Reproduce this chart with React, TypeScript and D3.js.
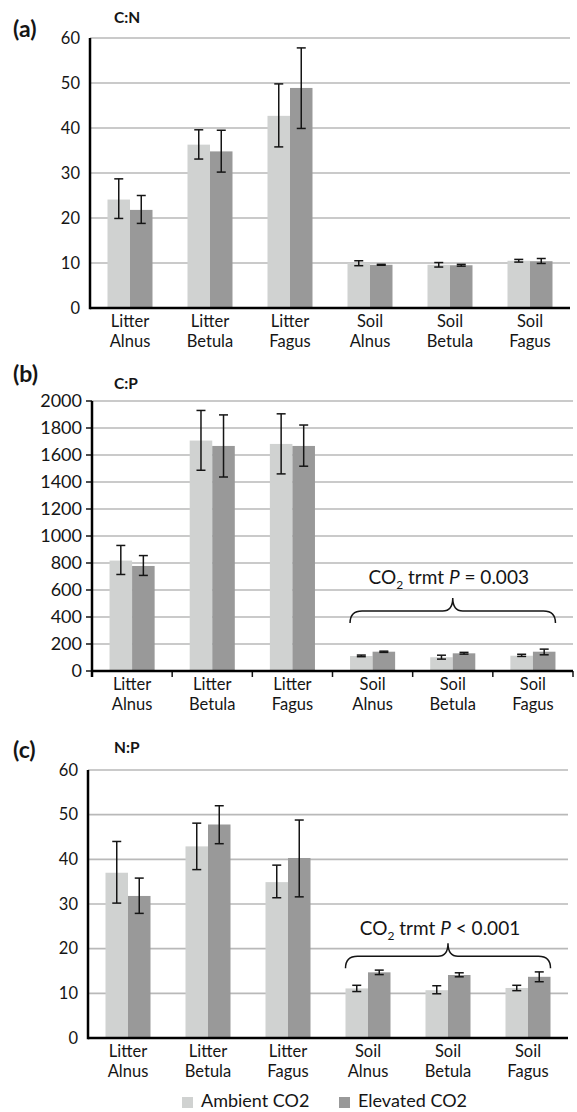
import * as d3 from 'd3'

const categories = ['Litter Alnus', 'Litter Betula', 'Litter Fagus', 'Soil Alnus', 'Soil Betula', 'Soil Fagus']
const treatments = ['Ambient CO2', 'Elevated CO2']
const treatmentColors = ['#d0d2d1', '#999999']

// (a) C:N
const cnAmbient = [24.1, 36.3, 42.7, 10.0, 9.6, 10.5]
const cnAmbientLow = [19.9, 33.1, 35.8, 9.4, 9.1, 10.2]
const cnAmbientHigh = [28.7, 39.6, 49.8, 10.5, 10.1, 10.8]
const cnElevated = [21.8, 34.8, 48.9, 9.6, 9.5, 10.4]
const cnElevatedLow = [18.8, 30.2, 39.9, 9.5, 9.3, 9.9]
const cnElevatedHigh = [25.0, 39.5, 57.8, 9.7, 9.7, 11.0]
const cnTicks = [0, 10, 20, 30, 40, 50, 60]

// (b) C:P
const cpAmbient = [818, 1707, 1682, 111, 102, 113]
const cpAmbientLow = [715, 1487, 1460, 106, 88, 108]
const cpAmbientHigh = [930, 1930, 1905, 118, 117, 124]
const cpElevated = [778, 1667, 1667, 143, 131, 143]
const cpElevatedLow = [708, 1437, 1517, 138, 125, 120]
const cpElevatedHigh = [855, 1897, 1822, 147, 138, 162]
const cpTicks = [0, 200, 400, 600, 800, 1000, 1200, 1400, 1600, 1800, 2000]

// (c) N:P
const npAmbient = [37.0, 42.9, 34.9, 11.1, 10.7, 11.2]
const npAmbientLow = [30.2, 37.7, 31.4, 10.4, 9.9, 10.6]
const npAmbientHigh = [44.0, 48.1, 38.7, 11.8, 11.7, 11.8]
const npElevated = [31.8, 47.8, 40.3, 14.7, 14.1, 13.7]
const npElevatedLow = [27.9, 43.5, 31.6, 14.2, 13.7, 12.6]
const npElevatedHigh = [35.8, 52.0, 48.8, 15.2, 14.6, 14.8]
const npTicks = [0, 10, 20, 30, 40, 50, 60]

const FONT = "Lato, 'Open Sans', sans-serif"
const INK = '#151515'

type PanelSpec = {
  letter: string
  title: string
  letterY: number
  titleY: number
  left: number
  right: number
  top: number
  bottom: number
  max: number
  ticks: number[]
  tickFont: number
  values: number[][]
  lows: number[][]
  highs: number[][]
  tickMarks: boolean
  note?: { p: string; base: number; textDx: number; textDy: number }
}

const panels: PanelSpec[] = [
  {
    letter: '(a)', title: 'C:N', letterY: 37, titleY: 23,
    left: 90, right: 570, top: 38, bottom: 308, max: 60, ticks: cnTicks, tickFont: 16.5,
    values: [cnAmbient, cnElevated], lows: [cnAmbientLow, cnElevatedLow], highs: [cnAmbientHigh, cnElevatedHigh],
    tickMarks: false,
  },
  {
    letter: '(b)', title: 'C:P', letterY: 382, titleY: 389,
    left: 92, right: 573, top: 401, bottom: 671, max: 2000, ticks: cpTicks, tickFont: 18,
    values: [cpAmbient, cpElevated], lows: [cpAmbientLow, cpElevatedLow], highs: [cpAmbientHigh, cpElevatedHigh],
    tickMarks: true,
    note: { p: '= 0.003', base: 444, textDx: -4, textDy: -27 },
  },
  {
    letter: '(c)', title: 'N:P', letterY: 758, titleY: 753,
    left: 88, right: 568, top: 770, bottom: 1038, max: 60, ticks: npTicks, tickFont: 16.5,
    values: [npAmbient, npElevated], lows: [npAmbientLow, npElevatedLow], highs: [npAmbientHigh, npElevatedHigh],
    tickMarks: false,
    note: { p: '< 0.001', base: 18.3, textDx: -8, textDy: -21 },
  },
]

function Panel({ spec }: { spec: PanelSpec }) {
  const x = d3
    .scaleBand<string>()
    .domain(categories)
    .range([spec.left, spec.right])
    .paddingInner(0.4375)
    .paddingOuter(0.21875)
  const sub = d3.scaleBand<string>().domain(treatments).range([0, x.bandwidth()])
  const y = d3.scaleLinear().domain([0, spec.max]).range([spec.bottom, spec.top])
  const cap = 4.5

  let brace: { path: string; cx: number; ty: number } | null = null
  if (spec.note) {
    const x0 = x('Soil Alnus') ?? 0
    const x1 = (x('Soil Fagus') ?? 0) + x.bandwidth()
    const cx = (x0 + x1) / 2
    const by = y(spec.note.base)
    const r = 12
    const path = [
      `M${x0},${by + r}`,
      `Q${x0},${by} ${x0 + r},${by}`,
      `L${cx - 10},${by}`,
      `Q${cx},${by} ${cx},${by - 13}`,
      `Q${cx},${by} ${cx + 10},${by}`,
      `L${x1 - r},${by}`,
      `Q${x1},${by} ${x1},${by + r}`,
    ].join(' ')
    brace = { path, cx, ty: by + spec.note.textDy }
  }

  return (
    <g>
      <text x={13} y={spec.letterY} fontSize={23} fontWeight="bold" fill={INK}>{spec.letter}</text>
      <text x={114} y={spec.titleY} fontSize={15.5} fontWeight="bold" fill={INK}>{spec.title}</text>

      {spec.ticks.map((t) => (
        <g key={t}>
          {t > 0 && (
            <line x1={spec.left} x2={spec.right} y1={y(t)} y2={y(t)} stroke="#b9b9b9" strokeWidth={1.6} />
          )}
          {spec.tickMarks && (
            <line x1={spec.left - 6} x2={spec.left} y1={y(t)} y2={y(t)} stroke={INK} strokeWidth={1.5} />
          )}
          <text x={spec.left - 10} y={y(t)} dy="0.35em" textAnchor="end" fontSize={spec.tickFont} fill={INK}>
            {t}
          </text>
        </g>
      ))}

      {categories.map((c, ci) =>
        treatments.map((tr, ti) => {
          const bx = (x(c) ?? 0) + (sub(tr) ?? 0)
          const bw = sub.bandwidth()
          const v = spec.values[ti][ci]
          const mx = bx + bw / 2
          return (
            <g key={`${c}-${tr}`}>
              <rect x={bx} y={y(v)} width={bw} height={spec.bottom - y(v)} fill={treatmentColors[ti]} />
              <line x1={mx} x2={mx} y1={y(spec.lows[ti][ci])} y2={y(spec.highs[ti][ci])} stroke={INK} strokeWidth={1.5} />
              <line x1={mx - cap} x2={mx + cap} y1={y(spec.lows[ti][ci])} y2={y(spec.lows[ti][ci])} stroke={INK} strokeWidth={1.5} />
              <line x1={mx - cap} x2={mx + cap} y1={y(spec.highs[ti][ci])} y2={y(spec.highs[ti][ci])} stroke={INK} strokeWidth={1.5} />
            </g>
          )
        }),
      )}

      {spec.tickMarks &&
        d3.range(categories.length + 1).map((i) => {
          const tx = spec.left + i * x.step()
          return <line key={i} x1={tx} x2={tx} y1={spec.bottom} y2={spec.bottom + 6} stroke={INK} strokeWidth={1.5} />
        })}

      <line x1={spec.left} x2={spec.left} y1={spec.top} y2={spec.bottom + (spec.tickMarks ? 6 : 1.2)} stroke="#000" strokeWidth={2.5} />
      <line x1={spec.left} x2={spec.right} y1={spec.bottom} y2={spec.bottom} stroke="#000" strokeWidth={2.5} />

      {categories.map((c) => {
        const cx = (x(c) ?? 0) + x.bandwidth() / 2
        const [l1, l2] = c.split(' ')
        return (
          <text key={c} x={cx} textAnchor="middle" fontSize={16.5} fill={INK}>
            <tspan x={cx} y={spec.bottom + 19}>{l1}</tspan>
            <tspan x={cx} y={spec.bottom + 39}>{l2}</tspan>
          </text>
        )
      })}

      {brace && spec.note && (
        <g>
          <path d={brace.path} fill="none" stroke={INK} strokeWidth={1.5} />
          <text x={brace.cx + spec.note.textDx} y={brace.ty} textAnchor="middle" fontSize={19} fill={INK}>
            CO<tspan fontSize={12} dy={5}>2</tspan>
            <tspan dy={-5}> trmt </tspan>
            <tspan fontStyle="italic">P</tspan>
            <tspan> {spec.note.p}</tspan>
          </text>
        </g>
      )}
    </g>
  )
}

export default function App() {
  return (
    <svg
      width={577}
      height={1112}
      style={{ position: 'absolute', left: 0, top: 0, background: '#fff' }}
      fontFamily={FONT}
    >
      {panels.map((p) => (
        <Panel key={p.letter} spec={p} />
      ))}
      {treatments.map((t, i) => {
        const lx = [182, 339][i]
        return (
          <g key={t}>
            <rect x={lx} y={1097} width={11} height={11} fill={treatmentColors[i]} />
            <text x={lx + 19} y={1107} fontSize={18} fill={INK}>{t}</text>
          </g>
        )
      })}
    </svg>
  )
}
